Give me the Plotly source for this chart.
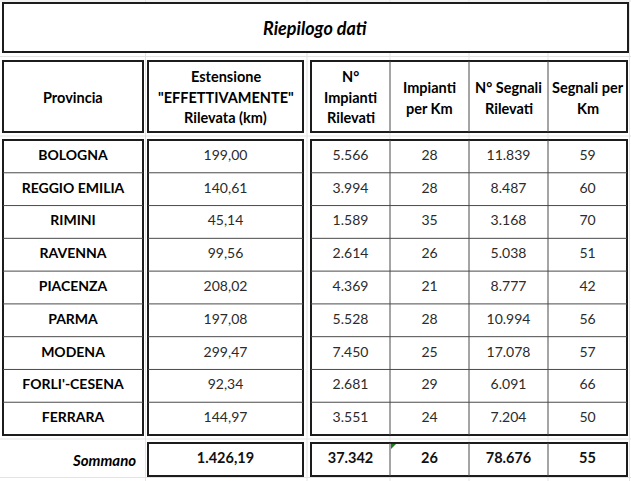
import plotly.graph_objects as go

# --- data read from the sheet ---
province = ["BOLOGNA", "REGGIO EMILIA", "RIMINI", "RAVENNA", "PIACENZA",
            "PARMA", "MODENA", "FORLI'-CESENA", "FERRARA"]
estensione_km = [199.00, 140.61, 45.14, 99.56, 208.02, 197.08, 299.47, 92.34, 144.97]
impianti = [5566, 3994, 1589, 2614, 4369, 5528, 7450, 2681, 3551]
impianti_per_km = [28, 28, 35, 26, 21, 28, 25, 29, 24]
segnali = [11839, 8487, 3168, 5038, 8777, 10994, 17078, 6091, 7204]
segnali_per_km = [59, 60, 70, 51, 42, 56, 57, 66, 50]
totali = [1426.19, 37342, 26, 78676, 55]

titolo = "Riepilogo dati"
intestazioni = [["Provincia"],
                ["Estensione", "\"EFFETTIVAMENTE\"", "Rilevata (km)"],
                ["N°", "Impianti", "Rilevati"],
                ["Impianti", "per Km"],
                ["N° Segnali", "Rilevati"],
                ["Segnali per", "Km"]]
etichetta_somma = "Sommano"

# --- layout (pixels of the 631x481 window) ---
W, H = 631, 481
FONT = "Lato"
DARK = "#1c1c1c"
INNER = "#4a4a4a"
GRID = "#e3e3e3"
col_x = [(3, 143), (148, 303), (311, 390), (390, 469), (469, 548), (548, 627)]
centers = [(a + b) / 2 for a, b in col_x]
ROW0, ROWH = 140, 32.78
SUM_TOP, SUM_BOT = 443, 476


def it_dec(v):
    s = f"{v:,.2f}"
    return s.replace(",", "X").replace(".", ",").replace("X", ".")


def it_int(v):
    return f"{v:,}".replace(",", ".")


n = len(province)
row_y = [ROW0 + (i + 0.5) * ROWH for i in range(n)]
sum_y = (SUM_TOP + SUM_BOT) / 2

fig = go.Figure()

cols = [province,
        [it_dec(v) for v in estensione_km],
        [it_int(v) for v in impianti],
        [str(v) for v in impianti_per_km],
        [it_int(v) for v in segnali],
        [str(v) for v in segnali_per_km]]
for j, txt in enumerate(cols):
    fig.add_trace(go.Scatter(
        x=[centers[j]] * n, y=row_y, text=txt, mode="text",
        textfont=dict(family=FONT, size=14, color="#000" if j == 0 else "#2b2b2b",
                      weight="bold" if j == 0 else "normal"),
        hoverinfo="skip", showlegend=False))

tot_txt = [it_dec(totali[0]), it_int(totali[1]), str(totali[2]),
           it_int(totali[3]), str(totali[4])]
fig.add_trace(go.Scatter(
    x=centers[1:], y=[sum_y] * 5, text=tot_txt, mode="text",
    textfont=dict(family=FONT, size=14.5, color="#111", weight="bold"),
    hoverinfo="skip", showlegend=False))

shapes = []


def line(x0, y0, x1, y1, color, w):
    shapes.append(dict(type="line", x0=x0, y0=y0, x1=x1, y1=y1, layer="below",
                       line=dict(color=color, width=w)))


def box(x0, y0, x1, y1):
    shapes.append(dict(type="rect", x0=x0, y0=y0, x1=x1, y1=y1, layer="below",
                       fillcolor="white", line=dict(color=DARK, width=2)))


# faint sheet gridlines
for gy in [1, 56.5, 136, 439, 477.5]:
    line(0, gy, W, gy, GRID, 1)
for gx in [145.5, 307, 390, 469, 548, 629.5]:
    line(gx, 0, gx, H, GRID, 1)

# title + header
box(3, 3, 628, 52)
box(col_x[0][0], 61, col_x[0][1], 132)
box(col_x[1][0], 61, col_x[1][1], 132)
box(col_x[2][0], 61, col_x[5][1], 132)
for a, _ in col_x[3:]:
    line(a, 61, a, 132, INNER, 1)

# data blocks
bot = ROW0 + n * ROWH
box(col_x[0][0], ROW0, col_x[0][1], bot)
box(col_x[1][0], ROW0, col_x[1][1], bot)
box(col_x[2][0], ROW0, col_x[5][1], bot)
for i in range(1, n):
    yy = ROW0 + i * ROWH
    line(col_x[0][0], yy, col_x[0][1], yy, INNER, 1)
    line(col_x[1][0], yy, col_x[1][1], yy, INNER, 1)
    line(col_x[2][0], yy, col_x[5][1], yy, INNER, 1)
for a, _ in col_x[3:]:
    line(a, ROW0, a, bot, INNER, 1)

# totals row
box(col_x[1][0], SUM_TOP, col_x[1][1], SUM_BOT)
box(col_x[2][0], SUM_TOP, col_x[5][1], SUM_BOT)
for a, _ in col_x[3:]:
    line(a, SUM_TOP, a, SUM_BOT, INNER, 1)
shapes.append(dict(type="path", path="M 391,444 L 396,444 L 391,449 Z",
                   fillcolor="#1e7b1e", line=dict(width=0), layer="above"))

ann = [dict(x=315, y=27.5, text="<b><i>" + titolo + "</i></b>", showarrow=False,
            font=dict(family=FONT, size=18, color="#000"))]
for j, lines in enumerate(intestazioni):
    k = len(lines)
    mid = 97 if k != 2 else 98
    for m, t in enumerate(lines):
        ann.append(dict(x=centers[j], y=mid + (m - (k - 1) / 2) * 20.5,
                        text="<b>" + t + "</b>", showarrow=False,
                        font=dict(family=FONT, size=14.5, color="#000")))
ann.append(dict(x=138, y=sum_y, xanchor="right", text="<b><i>" + etichetta_somma + "</i></b>",
                showarrow=False, font=dict(family=FONT, size=15, color="#000")))

fig.update_layout(
    width=W, height=H, margin=dict(l=0, r=0, t=0, b=0),
    paper_bgcolor="white", plot_bgcolor="white",
    xaxis=dict(range=[0, W], visible=False, fixedrange=True),
    yaxis=dict(range=[H, 0], visible=False, fixedrange=True),
    shapes=shapes, annotations=ann)

# drop the page's default body margin so the sheet sits at the window corner
fig.write_html("out.html", config={"displayModeBar": False},
               post_script="document.body.style.margin='0';document.body.style.overflow='hidden';")
